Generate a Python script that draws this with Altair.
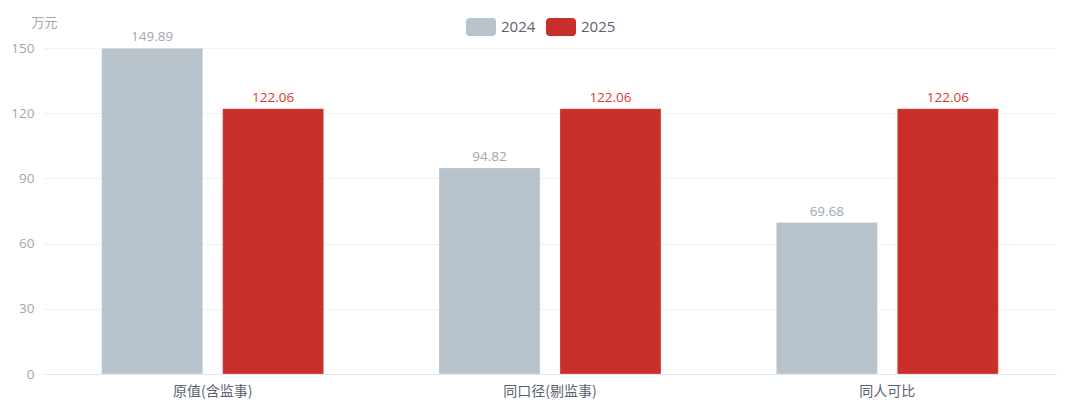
import altair as alt
import pandas as pd

categories = ["原值(含监事)", "同口径(剔监事)", "同人可比"]
years = ["2024", "2025"]
values_2024 = [149.89, 94.82, 69.68]
values_2025 = [122.06, 122.06, 122.06]
y_ticks = [0, 30, 60, 90, 120, 150]

rows = []
for c, v in zip(categories, values_2024):
    rows.append({"cat": c, "year": "2024", "value": v})
for c, v in zip(categories, values_2025):
    rows.append({"cat": c, "year": "2025", "value": v})
df = pd.DataFrame(rows)

FONT = "Noto Sans CJK SC"
NUMFONT = "Open Sans, Noto Sans CJK SC"
GRAY = "#b8c2cb"
RED = "#c9302c"

rr = ("M-0.75,-0.6 L0.75,-0.6 Q1,-0.6 1,-0.35 L1,0.35 Q1,0.6 0.75,0.6 "
      "L-0.75,0.6 Q-1,0.6 -1,0.35 L-1,-0.35 Q-1,-0.6 -0.75,-0.6 Z")

x_enc = alt.X("cat:N", sort=categories, title=None,
              scale=alt.Scale(paddingInner=0.342, paddingOuter=0.171),
              axis=alt.Axis(labelAngle=0, labelFontSize=14, labelColor="#5a6270",
                            labelFont=FONT, labelPadding=10, ticks=False,
                            domainColor="#e0e5ec", domainWidth=1, grid=False))
xoff = alt.XOffset("year:N", sort=years, scale=alt.Scale(paddingInner=0.165))
y_enc = alt.Y("value:Q", scale=alt.Scale(domain=[0, 150], nice=False),
              axis=alt.Axis(values=y_ticks, title="万元", titleAngle=0,
                            titleX=0, titleY=-26, titleAlign="center",
                            titleBaseline="middle", titleFontSize=13,
                            titleFontWeight="normal", titleColor="#a0a7b0",
                            titleFont=FONT, labelFontSize=13.5, labelColor="#a0a7b0",
                            labelFont=NUMFONT, labelPadding=10, ticks=False,
                            domain=False, gridColor="#eef1f5", gridWidth=1))

base = alt.Chart(df)

bars = base.mark_bar(stroke="white", strokeOpacity=0.25, strokeWidth=1).encode(
    x=x_enc, xOffset=xoff, y=y_enc,
    color=alt.Color("year:N", sort=years,
                    scale=alt.Scale(domain=years, range=[GRAY, RED]),
                    legend=alt.Legend(title=None, orient="none", direction="horizontal",
                                      legendX=422, legendY=-36,
                                      symbolType=rr, symbolSize=900,
                                      symbolStrokeWidth=0, labelFontSize=15,
                                      labelColor="#5a6270", labelFont=NUMFONT,
                                      labelOffset=5, columnPadding=10,
                                      symbolOpacity=1)),
)

labels = base.transform_calculate(
    lc="datum.year == '2024' ? '#a0a7b0' : '#d93a34'"
).mark_text(baseline="bottom", dy=-4, fontSize=13.5, font=NUMFONT).encode(
    x=alt.X("cat:N", sort=categories), xOffset=alt.XOffset("year:N", sort=years),
    y="value:Q",
    text=alt.Text("value:Q", format=".2f"),
    color=alt.Color("lc:N", scale=None),
)

chart = alt.layer(bars, labels).properties(
    width=1012, height=326,
    autosize=alt.AutoSizeParams(type="none"),
    padding={"left": 36, "top": 40, "right": 16, "bottom": 26},
).configure(font=FONT, background="white").configure_view(strokeWidth=0, stroke=None)

chart.save("out.html", embed_options={"renderer": "svg", "actions": False})
